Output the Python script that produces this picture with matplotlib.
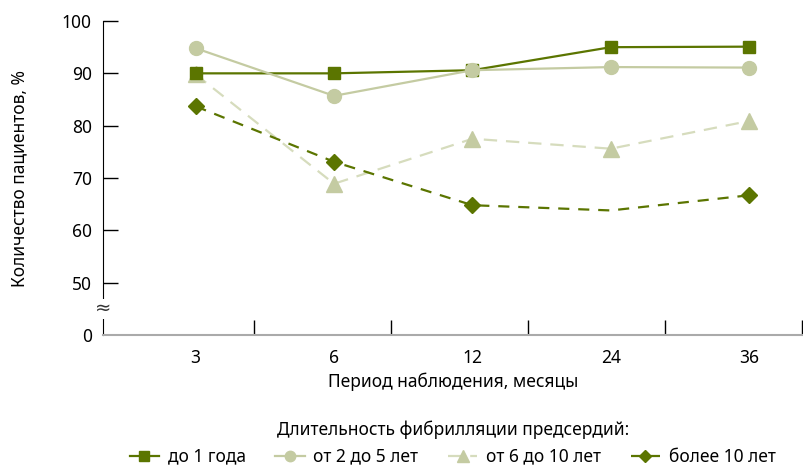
import numpy as np
import matplotlib.pyplot as plt

plt.rcParams['font.family'] = ['Noto Sans', 'DejaVu Sans']

periods = ['3', '6', '12', '24', '36']
series_names = ['до 1 года', 'от 2 до 5 лет', 'от 6 до 10 лет', 'более 10 лет']
up_to_1 = [90.0, 90.0, 90.6, 95.0, 95.1]
from_2_to_5 = [94.8, 85.7, 90.6, 91.2, 91.1]
from_6_to_10 = [89.8, 68.9, 77.5, 75.6, 80.9]
over_10 = [83.7, 73.1, 64.8, 63.8, 66.7]

dark = '#5b7500'
light = '#c4cba2'
lighter = '#d6dcbd'

fig = plt.figure(figsize=(8.04, 4.65), dpi=100)
ax = fig.add_axes([0.128, 0.2796, 0.871, 0.6752])

x = np.arange(len(periods))
ax.plot(x, up_to_1, '-', color=dark, lw=1.6, marker='s', ms=9, label=series_names[0], zorder=4)
ax.plot(x, from_2_to_5, '-', color=light, lw=1.6, marker='o', ms=10, label=series_names[1], zorder=5)
ax.plot(x, from_6_to_10, '--', color=lighter, lw=1.6, dashes=(6, 4), marker='^', ms=11,
        mfc=light, mec=light, label=series_names[2], zorder=3)
ax.plot(x, over_10, '--', color=dark, lw=1.6, dashes=(5, 4), marker='D', ms=8,
        markevery=[0, 1, 2, 4], label=series_names[3], zorder=3)

# broken y axis: 40 stands for 0
ax.set_ylim(40, 100)
ax.set_yticks([40, 50, 60, 70, 80, 90, 100])
ax.set_yticklabels(['0', '50', '60', '70', '80', '90', '100'], fontsize=12.5)
ax.tick_params(axis='y', direction='in', length=11, width=1, pad=8)
ax.yaxis.get_major_ticks()[0].tick1line.set_visible(False)
ax.text(-0.67, 45, '≈', ha='center', va='center', fontsize=14, color='#333333',
        bbox=dict(boxstyle='square,pad=0.0', fc='white', ec='none'))

ax.set_xlim(-0.67, 4.39)
ax.set_xticks([0.42, 1.41, 2.4, 3.39, 4.38])
ax.set_xticklabels([])
ax.tick_params(axis='x', direction='in', length=11, width=1)
ax.set_xticks(x, minor=True)
ax.set_xticklabels(periods, minor=True, fontsize=12.5)
ax.tick_params(axis='x', which='minor', length=0, pad=10)

for side in ['top', 'right']:
    ax.spines[side].set_visible(False)
ax.spines['left'].set_color('black')
ax.spines['bottom'].set_color('#aaaaaa')
ax.spines['bottom'].set_linewidth(1.5)

ax.set_ylabel('Количество пациентов, %', fontsize=12.5, labelpad=24)
ax.set_xlabel('Период наблюдения, месяцы', fontsize=12.5, labelpad=4)

fig.text(0.563, 0.075, 'Длительность фибрилляции предсердий:', ha='center', va='center',
         fontsize=12.5)
fig.legend(loc='center', bbox_to_anchor=(0.563, 0.018), ncol=4, frameon=False,
           fontsize=12.5, handlelength=1.7, columnspacing=1.7, handletextpad=0.5,
           markerscale=0.75, borderpad=0, borderaxespad=0)

fig.savefig('out.png', dpi=100)
